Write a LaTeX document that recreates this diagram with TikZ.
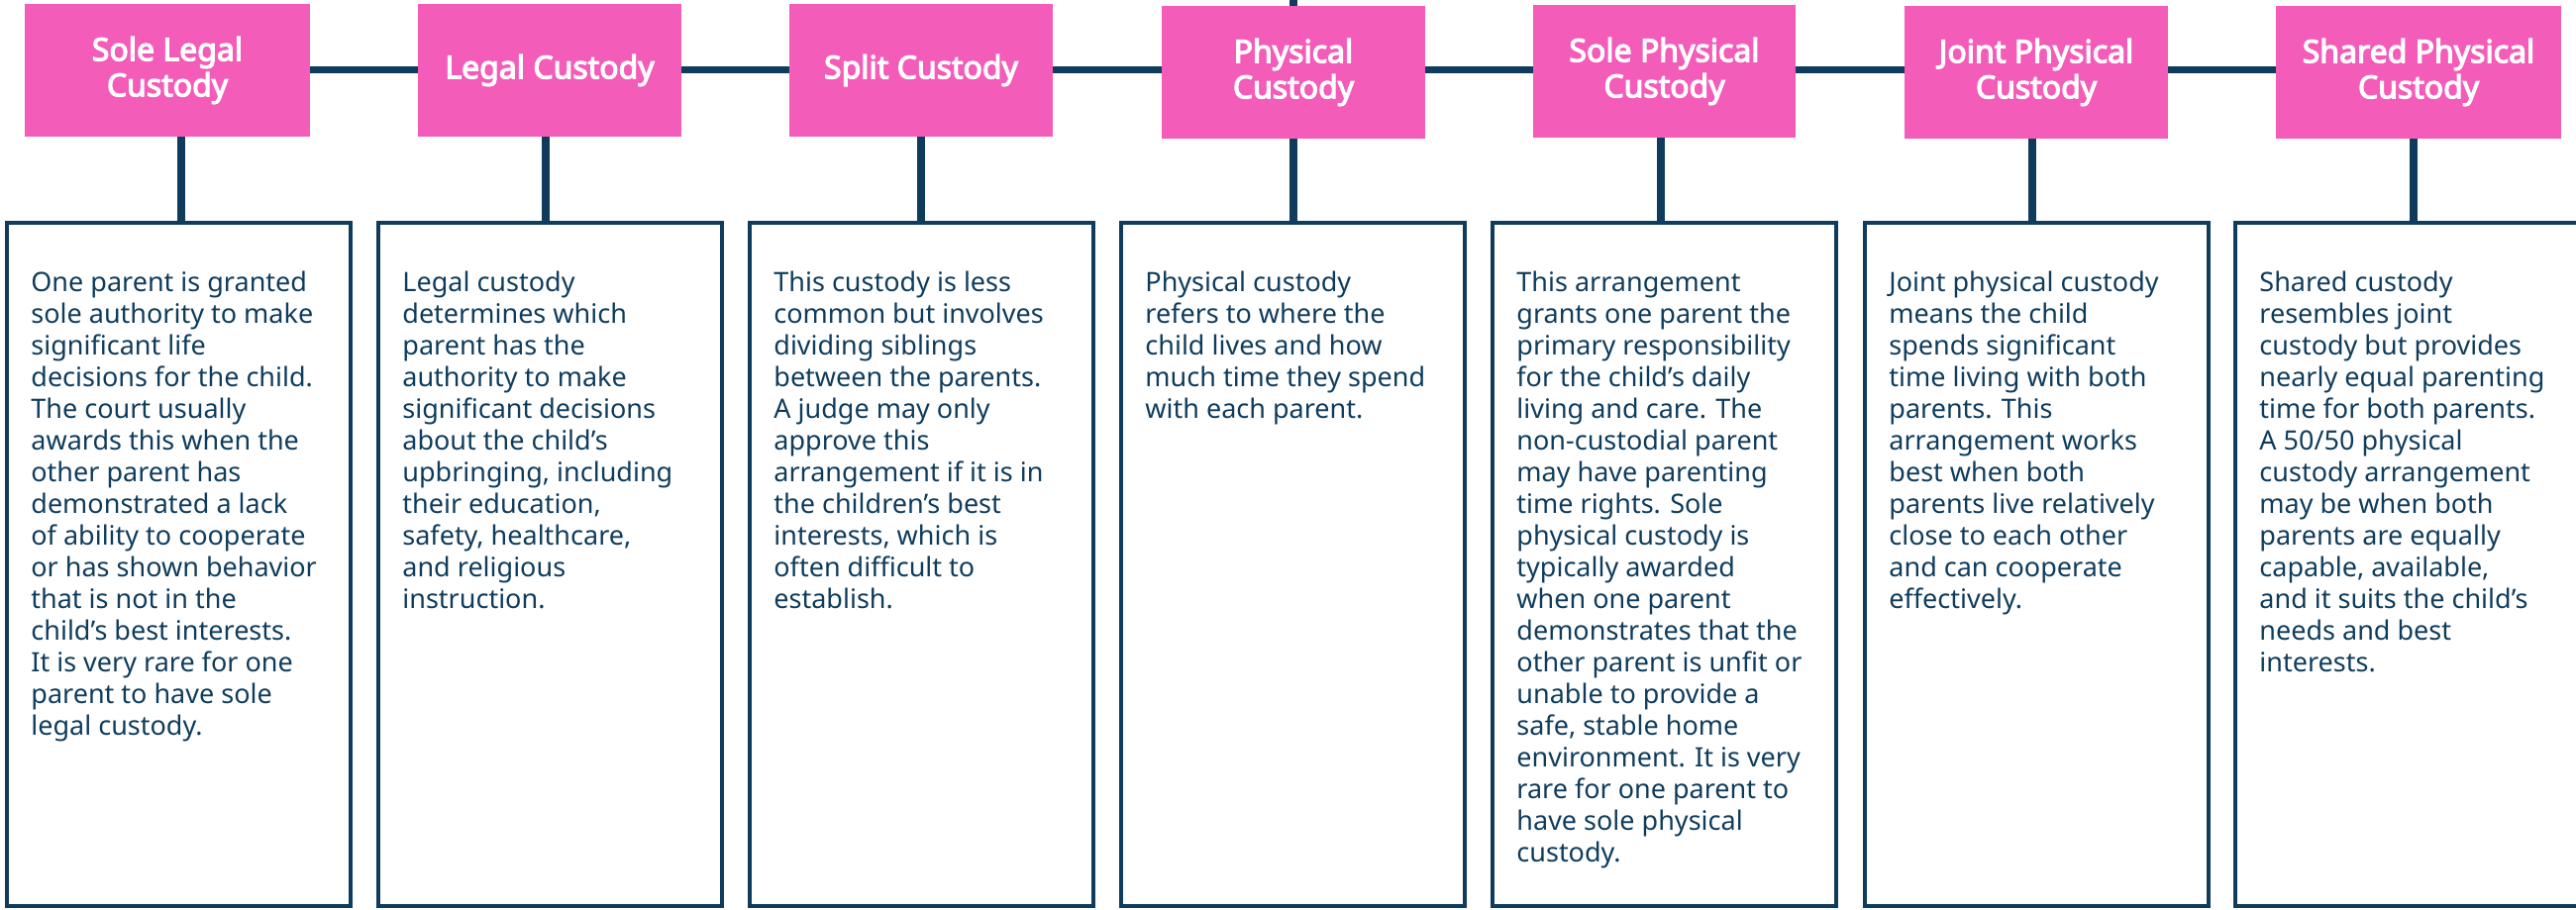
\documentclass[tikz,border=0pt]{standalone}
\usepackage{fontspec}
\setmainfont{Noto Sans}
\newfontfamily\titlefont{Noto Sans}[FakeBold=3.6]
\usetikzlibrary{backgrounds}
\definecolor{pinkbox}{RGB}{244,92,185}
\definecolor{navy}{RGB}{15,60,92}
\newcommand\fl{\rule{0pt}{12pt}}
\tikzset{
  titlebox/.style={fill=pinkbox, draw=none, text=white, align=center, inner sep=0pt,
    font=\titlefont\fontsize{16}{18}\selectfont, minimum height=67pt},
  descbox/.style={draw=navy, line width=2.25pt, fill=none, minimum width=173.5pt,
    minimum height=345pt, inner sep=0pt},
  desctext/.style={anchor=north west, align=left, inner sep=0pt, text=navy,
    font=\fontsize{13.5}{16}\selectfont},
  conn/.style={draw=navy, line width=3.6pt}
}
\begin{document}
\begin{tikzpicture}[x=0.5pt,y=-0.5pt]
\useasboundingbox (0,0) rectangle (2601,919);
% title boxes
\node[titlebox, minimum width=144pt]   (p1) at (169,71)    {Sole Legal\\Custody};
\node[titlebox, minimum width=133pt]   (p2) at (555,71)    {Legal Custody};
\node[titlebox, minimum width=133pt]   (p3) at (930,71)    {Split Custody};
\node[titlebox, minimum width=133pt]   (p4) at (1306,73)   {Physical\\Custody};
\node[titlebox, minimum width=132.5pt] (p5) at (1680.5,72) {Sole Physical\\Custody};
\node[titlebox, minimum width=133pt]   (p6) at (2056,73)   {Joint Physical\\Custody};
\node[titlebox, minimum width=144pt]   (p7) at (2442,73)   {Shared Physical\\Custody};
% description boxes
\node[descbox] (t1) at (180.5,570)  {};
\node[descbox] (t2) at (555.5,570)  {};
\node[descbox] (t3) at (930.5,570)  {};
\node[descbox] (t4) at (1305.5,570) {};
\node[descbox] (t5) at (1680.5,570) {};
\node[descbox] (t6) at (2056.5,570) {};
\node[descbox] (t7) at (2430.5,570) {};
% description texts
\node[desctext] (d1) at (31,270) {\fl One parent is granted\\sole authority to make\\significant life\\decisions for the child.\\The court usually\\awards this when the\\other parent has\\demonstrated a lack\\of ability to cooperate\\or has shown behavior\\that is not in the\\child’s best interests.\\It is very rare for one\\parent to have sole\\legal custody.};
\node[desctext] (d2) at (406,270) {\fl Legal custody\\determines which\\parent has the\\authority to make\\significant decisions\\about the child’s\\upbringing, including\\their education,\\safety, healthcare,\\and religious\\instruction.};
\node[desctext] (d3) at (781,270) {\fl This custody is less\\common but involves\\dividing siblings\\between the parents.\\A judge may only\\approve this\\arrangement if it is in\\the children’s best\\interests, which is\\often difficult to\\establish.};
\node[desctext] (d4) at (1156,270) {\fl Physical custody\\refers to where the\\child lives and how\\much time they spend\\with each parent.};
\node[desctext] (d5) at (1531,270) {\fl This arrangement\\grants one parent the\\primary responsibility\\for the child’s daily\\living and care. The\\non-custodial parent\\may have parenting\\time rights. Sole\\physical custody is\\typically awarded\\when one parent\\demonstrates that the\\other parent is unfit or\\unable to provide a\\safe, stable home\\environment. It is very\\rare for one parent to\\have sole physical\\custody.};
\node[desctext] (d6) at (1907,270) {\fl Joint physical custody\\means the child\\spends significant\\time living with both\\parents. This\\arrangement works\\best when both\\parents live relatively\\close to each other\\and can cooperate\\effectively.};
\node[desctext] (d7) at (2281,270) {\fl Shared custody\\resembles joint\\custody but provides\\nearly equal parenting\\time for both parents.\\A 50/50 physical\\custody arrangement\\may be when both\\parents are equally\\capable, available,\\and it suits the child’s\\needs and best\\interests.};
% connectors
\coordinate (hl) at (0,70.5);
\coordinate (top) at (1306,0);
\coordinate (v1) at (183,0);
\coordinate (v2) at (551,0);
\coordinate (v3) at (930,0);
\coordinate (v4) at (1306,0);
\coordinate (v5) at (1677,0);
\coordinate (v6) at (2052,0);
\coordinate (v7) at (2437,0);
\begin{scope}[on background layer]
\draw[conn] (p1.east |- hl) -- (p7.west |- hl);
\draw[conn] (top) -- (p4.north);
\draw[conn] (p1.south -| v1) -- (t1.north -| v1);
\draw[conn] (p2.south -| v2) -- (t2.north -| v2);
\draw[conn] (p3.south -| v3) -- (t3.north -| v3);
\draw[conn] (p4.south -| v4) -- (t4.north -| v4);
\draw[conn] (p5.south -| v5) -- (t5.north -| v5);
\draw[conn] (p6.south -| v6) -- (t6.north -| v6);
\draw[conn] (p7.south -| v7) -- (t7.north -| v7);
\end{scope}
\end{tikzpicture}
\end{document}
